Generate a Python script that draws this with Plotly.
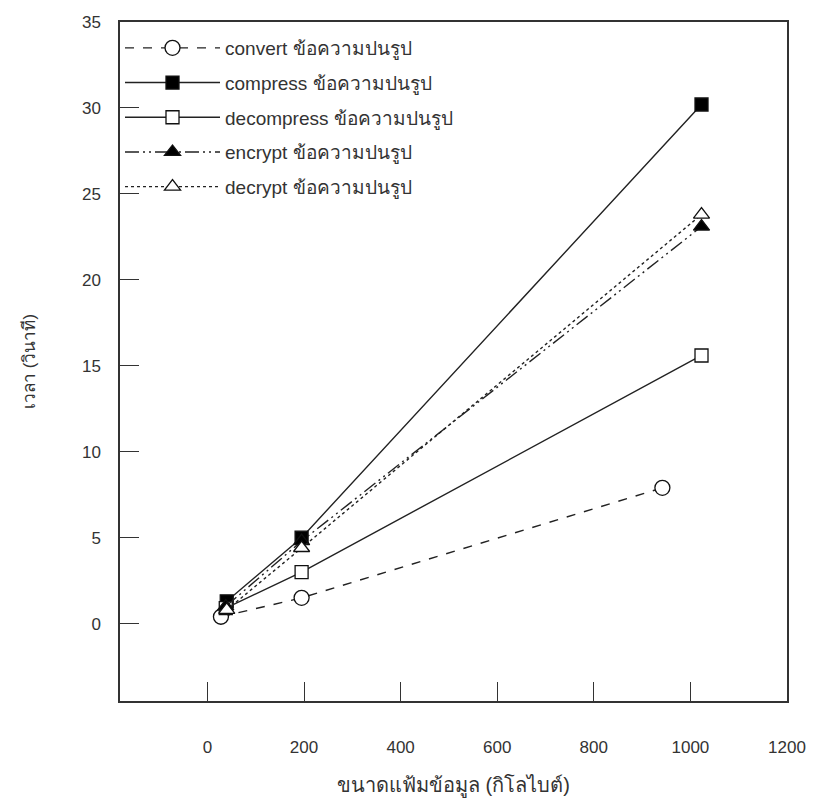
import plotly.graph_objects as go

# ---- data ----
series_names = ["convert ข้อความปนรูป", "compress ข้อความปนรูป", "decompress ข้อความปนรูป",
                "encrypt ข้อความปนรูป", "decrypt ข้อความปนรูป"]
convert_x = [28, 195, 942]
convert_y = [0.4, 1.5, 7.9]
compress_x = [40, 195, 1023]
compress_y = [1.3, 5.0, 30.2]
decompress_x = [38, 195, 1023]
decompress_y = [0.9, 3.0, 15.6]
encrypt_x = [38, 195, 1023]
encrypt_y = [1.0, 4.8, 23.1]
decrypt_x = [40, 195, 1023]
decrypt_y = [0.8, 4.4, 23.8]

x_ticks = [0, 200, 400, 600, 800, 1000, 1200]
y_ticks = [0, 5, 10, 15, 20, 25, 30, 35]
x_title = "ขนาดแฟ้มข้อมูล (กิโลไบต์)"
y_title = "เวลา (วินาที)"

FONT = "Liberation Sans Narrow, Liberation Sans, Arial, sans-serif"
TXT = "#333333"

styles = [
    dict(x=convert_x, y=convert_y, dash="dash", symbol="circle", fill="white", size=15),
    dict(x=compress_x, y=compress_y, dash="solid", symbol="square", fill="black", size=13),
    dict(x=decompress_x, y=decompress_y, dash="solid", symbol="square", fill="white", size=13),
    dict(x=encrypt_x, y=encrypt_y, dash="14px,4px,2px,4px,2px,4px", symbol="triangle-up", fill="black", size=14),
    dict(x=decrypt_x, y=decrypt_y, dash="dot", symbol="triangle-up", fill="white", size=14),
]

fig = go.Figure()
for i, (name, st) in enumerate(zip(series_names, styles)):
    fig.add_trace(go.Scatter(
        x=st["x"], y=st["y"], name=name, mode="lines+markers",
        legendgroup=f"g{i}",
        line=dict(color="#222222", width=1.4, dash=st["dash"]),
        marker=dict(symbol=st["symbol"], size=st["size"], color=st["fill"],
                    line=dict(color="#111111", width=1.3)),
    ))

axis_common = dict(showline=True, linecolor="#333333", linewidth=1.5, mirror=True,
                   ticks="inside", ticklen=19, tickwidth=1.3, tickcolor="#333333",
                   showgrid=False, zeroline=False,
                   tickfont=dict(family=FONT, size=17, color=TXT))

fig.update_xaxes(range=[-181, 1200], tickvals=x_ticks, ticktext=[str(v) for v in x_ticks],
                 ticklabelstandoff=30,
                 title=dict(text=x_title, font=dict(family=FONT, size=20, color=TXT), standoff=22),
                 **axis_common)
fig.update_yaxes(range=[-4.5, 35], tickvals=y_ticks, ticktext=[str(v) for v in y_ticks],
                 ticklabelstandoff=14,
                 title=dict(text=y_title, font=dict(family=FONT, size=17, color=TXT), standoff=42),
                 **axis_common)

fig.update_layout(
    width=818, height=807,
    margin=dict(l=120, r=27, t=22, b=106),
    paper_bgcolor="white", plot_bgcolor="white",
    showlegend=True,
    legend=dict(x=0.0, y=1.0 - 7 / 679, xanchor="left", yanchor="top",
                bgcolor="rgba(0,0,0,0)", borderwidth=0,
                itemwidth=95, tracegroupgap=7,
                font=dict(family=FONT, size=19, color=TXT)),
)

fig.write_html("out.html")
